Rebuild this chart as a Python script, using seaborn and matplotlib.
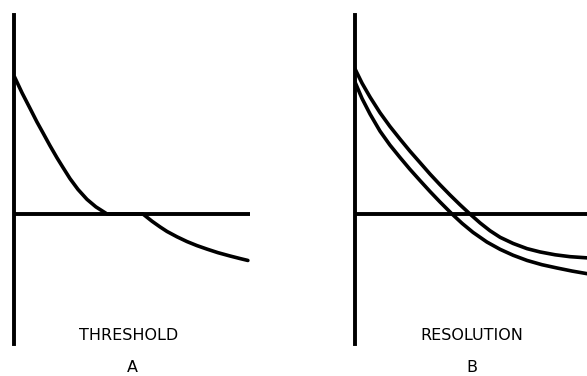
import matplotlib
matplotlib.use("Agg")
import matplotlib.pyplot as plt
import seaborn as sns
import pandas as pd

# Panel A: single response curve, rides along the zero line between crossings
thr_x = [0.0, 0.32, 0.66, 0.95, 1.21, 1.50, 1.80, 2.06, 2.35, 2.69, 3.07, 3.45, 3.92,
         5.44, 5.83, 6.17, 6.46, 6.89, 7.31, 7.73, 8.16, 8.62, 9.13, 9.56, 9.89]
thr_y = [5.81, 5.13, 4.47, 3.90, 3.43, 2.90, 2.38, 1.96, 1.50, 1.04, 0.62, 0.30, 0.0,
         0.0, -0.31, -0.55, -0.74, -0.97, -1.17, -1.34, -1.49, -1.64, -1.78, -1.89, -1.97]

# Panel B: two neighbouring response curves
res_upper_x = [0.0, 0.32, 0.66, 1.08, 1.50, 1.93, 2.35, 2.78, 3.20, 3.62, 4.05, 4.47,
               4.89, 5.32, 5.74, 6.17, 6.72, 7.31, 7.86, 8.50, 9.13, 9.85]
res_upper_y = [6.19, 5.54, 4.95, 4.29, 3.71, 3.17, 2.66, 2.17, 1.69, 1.24, 0.80, 0.39,
               0.0, -0.38, -0.71, -0.99, -1.25, -1.47, -1.61, -1.73, -1.81, -1.86]
res_lower_x = [0.0, 0.32, 0.66, 1.08, 1.50, 1.93, 2.35, 2.78, 3.20, 3.62, 4.13, 4.56,
               5.02, 5.61, 6.17, 6.72, 7.31, 7.94, 8.58, 9.22, 9.85]
res_lower_y = [5.64, 4.89, 4.23, 3.51, 2.92, 2.39, 1.89, 1.41, 0.95, 0.51, 0.0, -0.40,
               -0.78, -1.19, -1.50, -1.75, -1.97, -2.15, -2.29, -2.42, -2.53]

panel_titles = ["THRESHOLD", "RESOLUTION"]
panel_letters = ["A", "B"]

sns.set_style("white")
plt.rcParams["font.family"] = ["DejaVu Sans"]

W, H = 587, 376
fig = plt.figure(figsize=(W / 100, H / 100), dpi=100)

top_px, bottom_px = 15, 344
ax_h = (bottom_px - top_px) / H
ax_b = (H - bottom_px) / H

axA = fig.add_axes([14.5 / W, ax_b, 235.5 / W, ax_h])
axB = fig.add_axes([354.5 / W, ax_b, 233 / W, ax_h])

LW_AX = 2.8
LW_CURVE = 2.6

dfA = pd.DataFrame({"x": thr_x, "y": thr_y})
sns.lineplot(data=dfA, x="x", y="y", ax=axA, color="black", lw=LW_CURVE,
             sort=False, estimator=None, solid_joinstyle="round")

dfB = pd.concat([
    pd.DataFrame({"x": res_upper_x, "y": res_upper_y, "curve": "upper"}),
    pd.DataFrame({"x": res_lower_x, "y": res_lower_y, "curve": "lower"}),
])
sns.lineplot(data=dfB, x="x", y="y", units="curve", ax=axB, color="black",
             lw=LW_CURVE, sort=False, estimator=None, solid_joinstyle="round")

for ax, xmax in [(axA, 9.98), (axB, 9.87)]:
    ax.axhline(0.0, color="black", lw=LW_AX, zorder=3)
    ax.set_xlim(0, xmax)
    ax.set_ylim(-5.51, 8.43)
    for side in ["top", "right", "bottom"]:
        ax.spines[side].set_visible(False)
    ax.spines["left"].set_linewidth(LW_AX)
    ax.spines["left"].set_color("black")
    ax.set_xticks([])
    ax.set_yticks([])
    ax.set_xlabel("")
    ax.set_ylabel("")
    ax.patch.set_alpha(0)

label_kw = dict(ha="center", va="center", fontsize=11.5, color="black",
                fontweight="medium")
fig.text(129 / W, 1 - 336 / H, panel_titles[0], **label_kw)
fig.text(132 / W, 1 - 368 / H, panel_letters[0], **label_kw)
fig.text(472 / W, 1 - 336 / H, panel_titles[1], **label_kw)
fig.text(472 / W, 1 - 368 / H, panel_letters[1], **label_kw)

fig.savefig("out.png", dpi=100, facecolor="white")
